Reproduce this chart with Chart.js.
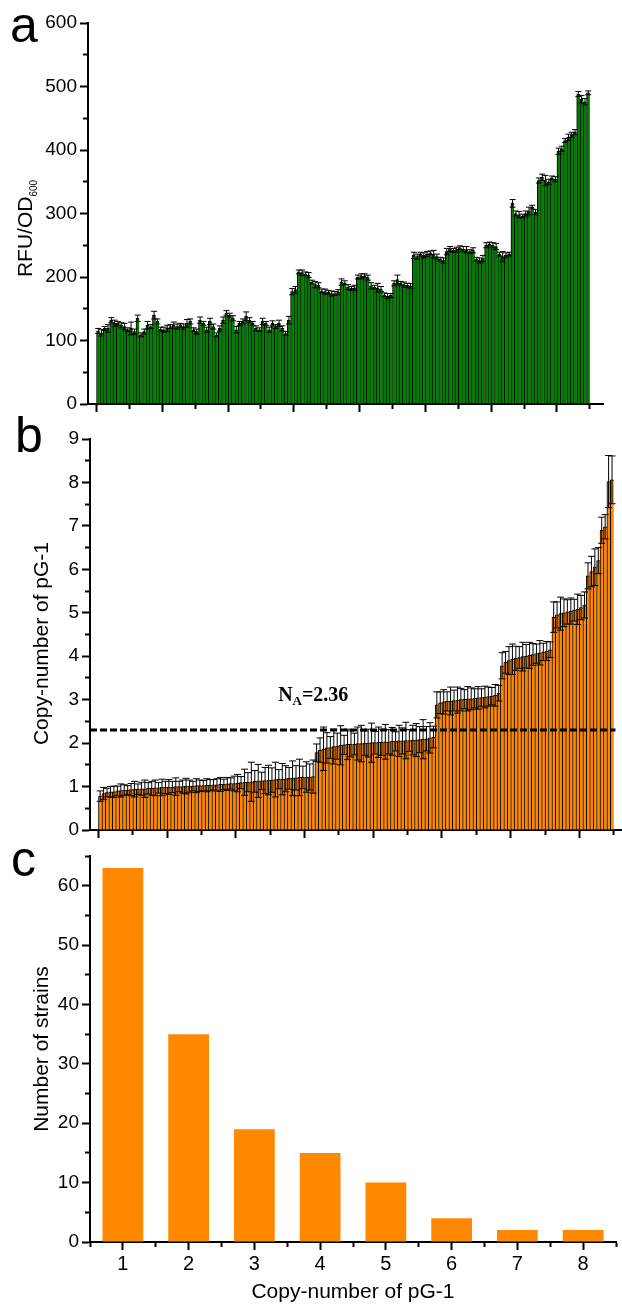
<!DOCTYPE html>
<html>
<head>
<meta charset="utf-8">
<script src="https://cdn.jsdelivr.net/npm/chart.js@4.4.1/dist/chart.umd.min.js"></script>
<style>
  body { margin: 0; background: #fff; }
  #page { position: relative; width: 622px; height: 1305px; overflow: hidden; font-family: "Liberation Sans", Arial, sans-serif; }
  canvas { position: absolute; left: 0; }
  .panel-letter { position: absolute; font-size: 50px; line-height: 1; color: #000; }
</style>
</head>
<body>
<div id="page">
  <canvas id="chartA" width="622" height="430" style="top:0px"></canvas>
  <canvas id="chartB" width="622" height="440" style="top:420px"></canvas>
  <canvas id="chartC" width="622" height="465" style="top:840px"></canvas>
  <div class="panel-letter" style="left:10px;top:0px">a</div>
  <div class="panel-letter" style="left:15px;top:410px">b</div>
  <div class="panel-letter" style="left:11px;top:834px">c</div>
</div>
<script>
// Panel a: RFU/OD600 of each strain
const rfuValues = [
  115, 112, 119, 119, 132, 127, 127, 124, 122, 117,
  119, 114, 135, 109, 114, 124, 122, 140, 130, 118,
  117, 119, 122, 124, 122, 124, 122, 127, 130, 117,
  114, 132, 127, 117, 130, 122, 109, 119, 132, 143,
  140, 135, 117, 127, 130, 138, 132, 127, 119, 117,
  130, 127, 117, 127, 122, 127, 119, 111, 132, 177,
  180, 208, 207, 205, 203, 192, 188, 187, 178, 177,
  176, 174, 174, 176, 192, 191, 184, 182, 183, 200,
  201, 202, 199, 186, 184, 183, 181, 172, 170, 171,
  190, 196, 190, 188, 187, 186, 234, 232, 236, 234,
  236, 238, 236, 232, 228, 226, 240, 244, 242, 243,
  246, 244, 243, 240, 242, 228, 226, 229, 250, 252,
  250, 248, 236, 232, 234, 236, 316, 300, 298, 296,
  300, 304, 310, 302, 352, 357, 352, 350, 356, 354,
  398, 402, 415, 420, 424, 428, 488, 480, 476, 490
];
const rfuErrors = [
  4, 5, 3, 6, 4, 5, 3, 4, 5, 3,
  10, 4, 5, 3, 4, 6, 3, 6, 4, 3,
  4, 5, 3, 5, 4, 3, 4, 6, 4, 3,
  4, 5, 3, 4, 5, 4, 3, 4, 5, 4,
  3, 4, 5, 3, 4, 7, 4, 3, 4, 3,
  5, 3, 4, 4, 3, 5, 4, 3, 6, 5,
  5, 3, 4, 3, 4, 3, 5, 4, 3, 4,
  3, 4, 3, 4, 5, 3, 4, 3, 4, 3,
  4, 3, 4, 5, 3, 7, 4, 3, 4, 3,
  4, 7, 3, 4, 3, 4, 5, 4, 3, 4,
  4, 3, 6, 4, 3, 4, 5, 4, 3, 4,
  3, 4, 5, 3, 4, 3, 4, 5, 4, 3,
  4, 5, 3, 8, 4, 3, 6, 4, 5, 3,
  4, 6, 3, 4, 4, 5, 8, 4, 3, 4,
  5, 4, 3, 5, 4, 4, 4, 6, 5, 3
];

// Panel b: copy-number of pG-1 of each strain (sorted)
const copyValues = [
  0.78, 0.84, 0.86, 0.88, 0.88, 0.90, 0.91, 0.92, 0.92, 0.93,
  0.94, 0.94, 0.95, 0.95, 0.96, 0.96, 0.97, 0.97, 0.98, 0.98,
  0.99, 0.99, 1.00, 1.00, 1.00, 1.01, 1.01, 1.01, 1.02, 1.02,
  1.02, 1.03, 1.03, 1.04, 1.04, 1.05, 1.05, 1.06, 1.07, 1.07,
  1.08, 1.09, 1.10, 1.10, 1.11, 1.12, 1.13, 1.13, 1.14, 1.15,
  1.15, 1.16, 1.17, 1.17, 1.18, 1.19, 1.19, 1.20, 1.21, 1.21,
  1.22, 1.22, 1.23,
  1.78, 1.84, 1.87, 1.89, 1.90, 1.92, 1.93, 1.95, 1.96, 1.97,
  1.98, 1.98, 1.99, 1.99, 2.00, 2.00, 2.01, 2.01, 2.02, 2.02,
  2.03, 2.03, 2.04, 2.04, 2.05, 2.05, 2.06, 2.06, 2.07, 2.07,
  2.08, 2.09, 2.10, 2.12, 2.14,
  2.88, 2.93, 2.95, 2.96, 2.97, 2.98, 2.99, 3.00, 3.01, 3.02,
  3.02, 3.03, 3.04, 3.05, 3.06, 3.07, 3.08, 3.10, 3.15,
  3.78, 3.86, 3.90, 3.93, 3.95, 3.97, 3.99, 4.00, 4.02, 4.04,
  4.06, 4.08, 4.10, 4.12, 4.15,
  4.90, 4.95, 4.98, 5.00, 5.02, 5.04, 5.06, 5.08, 5.12, 5.18,
  5.85, 5.95, 6.05, 6.20,
  6.90, 6.98,
  8.02, 8.06
];
const copyErrors = [
  0.12, 0.14, 0.10, 0.12, 0.13, 0.11, 0.15, 0.12, 0.10, 0.14,
  0.18, 0.12, 0.15, 0.20, 0.13, 0.16, 0.18, 0.12, 0.19, 0.14,
  0.17, 0.13, 0.20, 0.12, 0.15, 0.18, 0.14, 0.11, 0.16, 0.13,
  0.12, 0.15, 0.13, 0.12, 0.14, 0.16, 0.12, 0.15, 0.13, 0.17,
  0.20, 0.14, 0.30, 0.22, 0.45, 0.25, 0.38, 0.20, 0.30, 0.34,
  0.28, 0.40, 0.22, 0.36, 0.30, 0.25, 0.40, 0.28, 0.42, 0.26,
  0.35, 0.30, 0.38,
  0.20, 0.28, 0.50, 0.35, 0.25, 0.40, 0.30, 0.45, 0.22, 0.35,
  0.30, 0.25, 0.38, 0.42, 0.28, 0.32, 0.45, 0.26, 0.35, 0.30,
  0.40, 0.28, 0.32, 0.22, 0.36, 0.30, 0.42, 0.25, 0.34, 0.38,
  0.30, 0.45, 0.28, 0.35, 0.25,
  0.30, 0.25, 0.28, 0.22, 0.32, 0.24, 0.30, 0.26, 0.22, 0.28,
  0.25, 0.22, 0.26, 0.20, 0.25, 0.22, 0.20, 0.25, 0.18,
  0.30, 0.25, 0.32, 0.35, 0.28, 0.25, 0.33, 0.27, 0.30, 0.25,
  0.22, 0.28, 0.20, 0.22, 0.18,
  0.35, 0.30, 0.38, 0.32, 0.28, 0.30, 0.25, 0.35, 0.28, 0.30,
  0.30, 0.35, 0.42, 0.30,
  0.30, 0.28,
  0.60, 0.55
];
const averageCopy = 2.3;
const averageText = '2.36';

// Panel c: distribution of copy-numbers
const copyClasses = [1, 2, 3, 4, 5, 6, 7, 8];
const strainCounts = [63, 35, 19, 15, 10, 4, 2, 2];

const FONT = '"Liberation Sans", Arial, sans-serif';
const SERIF = '"Liberation Serif", "Times New Roman", serif';
const TICK = 8;
const MINOR = 4;

Chart.defaults.color = '#000';
Chart.defaults.font.family = FONT;

// major ticks full length, minor ticks cut short with a dash pattern
function tickGrid(isMajor, leftAxis) {
  return {
    display: true,
    drawOnChartArea: false,
    drawTicks: true,
    offset: false,
    tickLength: TICK,
    tickWidth: 2,
    tickColor: '#000',
    tickBorderDash: (ctx) => {
      if (!ctx.tick || isMajor(ctx.tick.value)) return [];
      return leftAxis ? [0, TICK - 1 - MINOR, MINOR, 100] : [MINOR, 100];
    }
  };
}

const axisBorder = { display: true, color: '#000', width: 2 };

// error bars drawn from each dataset's errorValues
const errorBars = {
  id: 'errorBars',
  afterDatasetsDraw(chart) {
    const ctx = chart.ctx;
    const yScale = chart.scales.y;
    chart.data.datasets.forEach((ds, di) => {
      if (!ds.errorValues) return;
      const meta = chart.getDatasetMeta(di);
      const half = ds.capHalfWidth || 3;
      ctx.save();
      ctx.strokeStyle = '#000';
      ctx.lineWidth = 1;
      meta.data.forEach((bar, j) => {
        const v = ds.data[j].y;
        const e = ds.errorValues[j];
        const top = yScale.getPixelForValue(v + e);
        const bottom = yScale.getPixelForValue(v - e);
        ctx.beginPath();
        ctx.moveTo(bar.x, top);
        ctx.lineTo(bar.x, bottom);
        ctx.moveTo(bar.x - half, top);
        ctx.lineTo(bar.x + half, top);
        ctx.moveTo(bar.x - half, bottom);
        ctx.lineTo(bar.x + half, bottom);
        ctx.stroke();
      });
      ctx.restore();
    });
  }
};

// rotated y title, optional subscript (RFU/OD600)
const yTitle = {
  id: 'yTitle',
  afterDraw(chart, args, opts) {
    const { ctx, chartArea } = chart;
    const cy = (chartArea.top + chartArea.bottom) / 2 + (opts.shift || 0);
    const sub = opts.sub || '';
    ctx.save();
    ctx.translate(opts.x, cy);
    ctx.rotate(-Math.PI / 2);
    ctx.fillStyle = '#000';
    ctx.textBaseline = 'alphabetic';
    ctx.font = opts.size + 'px ' + FONT;
    const wMain = ctx.measureText(opts.text).width;
    ctx.font = (opts.subSize || 10) + 'px ' + FONT;
    const wSub = sub ? ctx.measureText(sub).width : 0;
    const x0 = -(wMain + wSub) / 2;
    ctx.font = opts.size + 'px ' + FONT;
    ctx.fillText(opts.text, x0, 0);
    if (sub) {
      ctx.font = (opts.subSize || 10) + 'px ' + FONT;
      ctx.fillText(sub, x0 + wMain, opts.subDrop || 5);
    }
    ctx.restore();
  }
};

// "N_A=2.36" note for panel b
const averageNote = {
  id: 'averageNote',
  afterDatasetsDraw(chart, args, opts) {
    const { ctx, scales } = chart;
    const px = scales.x.getPixelForValue(opts.x);
    const py = scales.y.getPixelForValue(opts.y);
    ctx.save();
    ctx.fillStyle = '#000';
    ctx.textBaseline = 'alphabetic';
    ctx.font = 'bold 20px ' + SERIF;
    ctx.fillText('N', px, py);
    let w = ctx.measureText('N').width;
    ctx.font = 'bold 13px ' + SERIF;
    ctx.fillText('A', px + w, py + 4);
    w += ctx.measureText('A').width;
    ctx.font = 'bold 20px ' + SERIF;
    ctx.fillText('=' + averageText, px + w, py);
    ctx.restore();
  }
};

const baseOptions = {
  responsive: false,
  animation: false,
  devicePixelRatio: 1,
  events: []
};

// ---- Panel a ----
new Chart(document.getElementById('chartA'), {
  type: 'bar',
  data: {
    datasets: [{
      data: rfuValues.map((v, i) => ({ x: i + 0.5, y: v })),
      errorValues: rfuErrors,
      capHalfWidth: 3,
      backgroundColor: '#008000',
      borderColor: '#000',
      borderWidth: { top: 1, left: 1, right: 0, bottom: 0 },
      barPercentage: 1,
      categoryPercentage: 1
    }]
  },
  options: {
    ...baseOptions,
    layout: { padding: { top: 23, right: 19, bottom: 12, left: 0 } },
    plugins: {
      legend: { display: false }, tooltip: { enabled: false },
      yTitle: { text: 'RFU/OD', sub: '600', size: 21, subSize: 10, subDrop: 5, x: 32, shift: 15 }
    },
    scales: {
      x: {
        type: 'linear', min: -2.6, max: 154, offset: false,
        border: axisBorder,
        grid: tickGrid(v => v % 20 === 0, false),
        ticks: { display: false, stepSize: 10, includeBounds: false, autoSkip: false },
        afterFit: (s) => { s.height = 14; }
      },
      y: {
        min: 0, max: 600,
        border: axisBorder,
        grid: tickGrid(v => v % 100 === 0, true),
        ticks: { stepSize: 50, autoSkip: false, padding: 3, font: { size: 19 },
          callback: v => (v % 100 === 0 ? v : '') },
        afterFit: (s) => { s.width = 88; }
      }
    }
  },
  plugins: [errorBars, yTitle]
});

// ---- Panel b ----
const bMin = -2.47;
new Chart(document.getElementById('chartB'), {
  type: 'bar',
  data: {
    datasets: [{
      type: 'line',
      data: [{ x: bMin, y: averageCopy }, { x: copyValues.length + 0.5, y: averageCopy }],
      borderColor: '#000',
      borderWidth: 3,
      borderDash: [7, 3],
      pointRadius: 0,
      fill: false,
      order: 0
    }, {
      data: copyValues.map((v, i) => ({ x: i + 0.5, y: v })),
      errorValues: copyErrors,
      capHalfWidth: 3.5,
      backgroundColor: '#ff8800',
      borderColor: '#000',
      borderWidth: { top: 1, left: 1, right: 0, bottom: 0 },
      barPercentage: 1,
      categoryPercentage: 1,
      order: 1
    }]
  },
  options: {
    ...baseOptions,
    layout: { padding: { top: 19, right: 0, bottom: 16, left: 28 } },
    plugins: {
      legend: { display: false }, tooltip: { enabled: false },
      averageNote: { x: 52.3, y: 2.97 },
      yTitle: { text: 'Copy-number of pG-1', size: 21, x: 48, shift: 9 }
    },
    scales: {
      x: {
        type: 'linear', min: bMin, max: 152.4, offset: false,
        border: axisBorder,
        grid: tickGrid(v => v % 20 === 0, false),
        ticks: { display: false, stepSize: 10, includeBounds: false, autoSkip: false },
        afterFit: (s) => { s.height = 14; }
      },
      y: {
        min: 0, max: 9,
        border: axisBorder,
        grid: tickGrid(v => Number.isInteger(v), true),
        ticks: { stepSize: 0.5, autoSkip: false, padding: 3, font: { size: 19 },
          callback: v => (Number.isInteger(v) ? v : '') },
        afterFit: (s) => { s.width = 62; }
      }
    }
  },
  plugins: [errorBars, averageNote, yTitle]
});

// ---- Panel c ----
new Chart(document.getElementById('chartC'), {
  type: 'bar',
  data: {
    datasets: [{
      data: copyClasses.map((c, i) => ({ x: c, y: strainCounts[i] })),
      backgroundColor: '#ff8800',
      borderWidth: 0,
      // ruler uses the half-step tick spacing, so 1.24 gives 62% of one class
      barPercentage: 1.24,
      categoryPercentage: 1
    }]
  },
  options: {
    ...baseOptions,
    layout: { padding: { top: 16, right: 6, bottom: 0, left: 28 } },
    plugins: {
      legend: { display: false }, tooltip: { enabled: false },
      yTitle: { text: 'Number of strains', size: 21, x: 48, shift: 0 }
    },
    scales: {
      x: {
        type: 'linear', min: 0.5, max: 8.5, offset: false,
        border: axisBorder,
        grid: tickGrid(v => Number.isInteger(v), false),
        title: { display: true, text: 'Copy-number of pG-1', font: { size: 21 }, padding: { top: 0, bottom: 0 } },
        ticks: { stepSize: 0.5, autoSkip: false, maxRotation: 0, padding: 2, font: { size: 20 },
          callback: v => (Number.isInteger(v) ? v : '') },
        afterFit: (s) => { s.height = 63; }
      },
      y: {
        min: 0, max: 65,
        border: axisBorder,
        grid: tickGrid(v => v % 10 === 0, true),
        ticks: { stepSize: 5, autoSkip: false, padding: 3, font: { size: 19 },
          callback: v => (v % 10 === 0 ? v : '') },
        afterFit: (s) => { s.width = 62; }
      }
    }
  },
  plugins: [errorBars, yTitle]
});
</script>
</body>
</html>
